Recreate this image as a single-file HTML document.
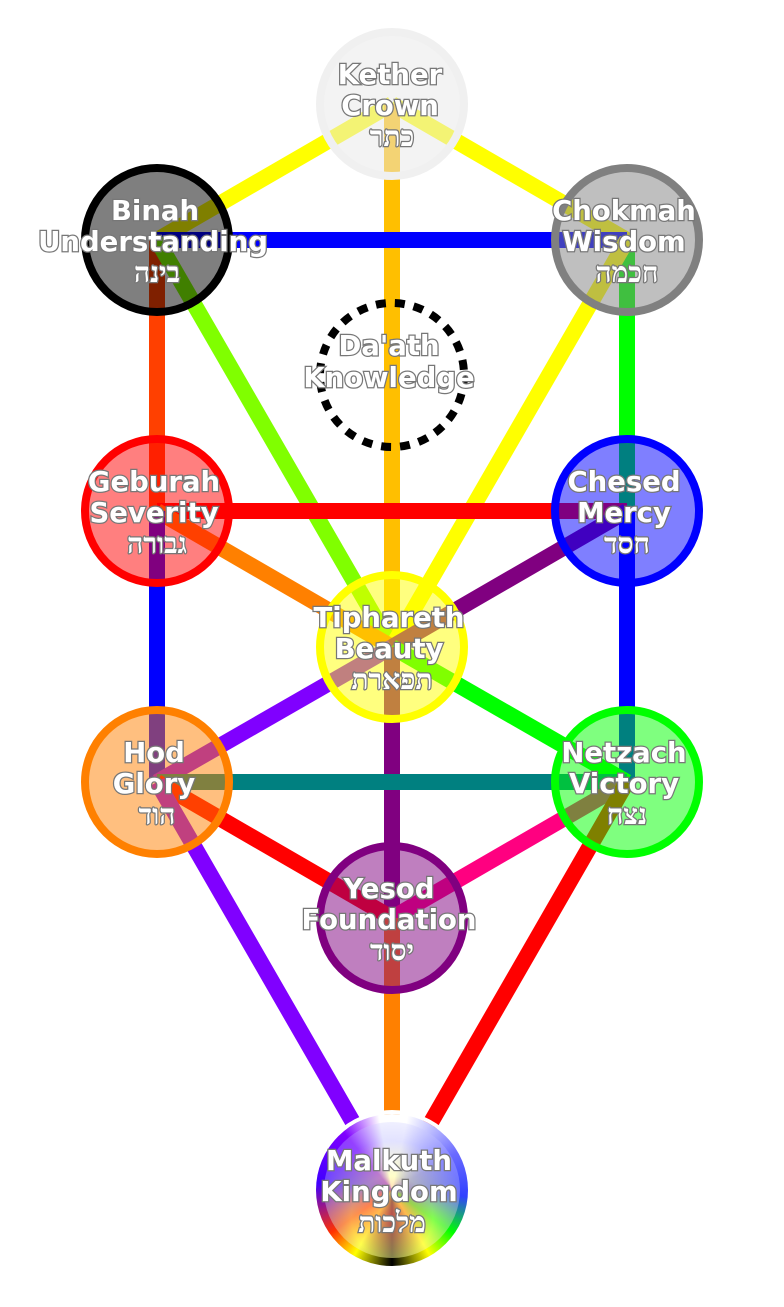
<!DOCTYPE html>
<html><head><meta charset="utf-8"><style>
html,body{margin:0;padding:0;background:#fff;}
#w{position:relative;width:784px;height:1307px;overflow:hidden;}
svg{position:absolute;left:0;top:0;}
#mal{position:absolute;left:316px;top:1114px;width:152px;height:152px;border-radius:50%;
background:conic-gradient(#fff 0deg,#fff 12deg,#6a6aff 60deg,#3040ff 95deg,#00ff00 125deg,#ffff00 150deg,#000 180deg,#ffff00 210deg,#ff3000 235deg,#4000ff 275deg,#8000ff 320deg,#fff 350deg);box-shadow:0 0 0 4px #fff;}
#malin{position:absolute;left:324px;top:1122px;width:136px;height:136px;border-radius:50%;
background:radial-gradient(circle at 50% 70%,rgba(255,110,110,.85) 0%,rgba(255,255,150,.6) 35%,rgba(180,180,255,.45) 65%,rgba(255,255,255,.2) 100%);opacity:.85;}
text{font-family:"DejaVu Sans","Liberation Sans",sans-serif;font-weight:bold;font-size:27.5px;fill:#fff;stroke:#777;stroke-width:2.5px;paint-order:stroke;text-anchor:middle;}
text.h{font-family:"DejaVu Serif","Liberation Serif",serif;font-size:28px;}
</style></head><body><div id="w">
<svg width="784" height="1307">
<g stroke-width="16" stroke-linecap="butt">
<line x1="392" y1="104" x2="157" y2="240" stroke="#ffff00"/>
<line x1="392" y1="104" x2="627" y2="240" stroke="#ffff00"/>
<line x1="392" y1="104" x2="392" y2="647" stroke="#ffbf00"/>
<line x1="157" y1="240" x2="627" y2="240" stroke="#0000ff"/>
<line x1="157" y1="240" x2="157" y2="511" stroke="#ff4000"/>
<line x1="157" y1="240" x2="392" y2="647" stroke="#80ff00"/>
<line x1="627" y1="240" x2="627" y2="511" stroke="#00ff00"/>
<line x1="627" y1="240" x2="392" y2="647" stroke="#ffff00"/>
<line x1="157" y1="511" x2="627" y2="511" stroke="#ff0000"/>
<line x1="157" y1="511" x2="392" y2="647" stroke="#ff8000"/>
<line x1="627" y1="511" x2="392" y2="647" stroke="#800080"/>
<line x1="157" y1="511" x2="157" y2="782" stroke="#0000ff"/>
<line x1="627" y1="511" x2="627" y2="782" stroke="#0000ff"/>
<line x1="392" y1="647" x2="157" y2="782" stroke="#8000ff"/>
<line x1="392" y1="647" x2="627" y2="782" stroke="#00ff00"/>
<line x1="392" y1="647" x2="392" y2="918" stroke="#800080"/>
<line x1="157" y1="782" x2="627" y2="782" stroke="#008080"/>
<line x1="157" y1="782" x2="392" y2="918" stroke="#ff0000"/>
<line x1="627" y1="782" x2="392" y2="918" stroke="#ff0080"/>
<line x1="157" y1="782" x2="392" y2="1190" stroke="#8000ff"/>
<line x1="627" y1="782" x2="392" y2="1190" stroke="#ff0000"/>
<line x1="392" y1="918" x2="392" y2="1190" stroke="#ff8000"/>
</g>
</svg>
<div id="mal"></div><div id="malin"></div>
<svg width="784" height="1307">
<g stroke-width="8">
<circle cx="392" cy="104" r="72" fill="#e8e8e8" fill-opacity=".5" stroke="#f0f0f0"/>
<circle cx="157" cy="240" r="72" fill="#000" fill-opacity=".5" stroke="#000"/>
<circle cx="627" cy="240" r="72" fill="#808080" fill-opacity=".5" stroke="#808080"/>
<circle cx="392" cy="375" r="72" fill="none" stroke="#000" stroke-dasharray="10 9"/>
<circle cx="157" cy="511" r="72" fill="#ff0000" fill-opacity=".5" stroke="#ff0000"/>
<circle cx="627" cy="511" r="72" fill="#0000ff" fill-opacity=".5" stroke="#0000ff"/>
<circle cx="392" cy="647" r="72" fill="#ffff00" fill-opacity=".5" stroke="#ffff00"/>
<circle cx="157" cy="782" r="72" fill="#ff8000" fill-opacity=".5" stroke="#ff8000"/>
<circle cx="627" cy="782" r="72" fill="#00ff00" fill-opacity=".5" stroke="#00ff00"/>
<circle cx="392" cy="918" r="72" fill="#800080" fill-opacity=".5" stroke="#800080"/>
</g>
<text x="390" y="84">Kether</text><text x="390" y="115">Crown</text><text class="h" x="392" y="146">כתר</text>
<text x="155" y="220">Binah</text><text x="153" y="251">Understanding</text><text class="h" x="157" y="282">בינה</text>
<text x="624" y="220">Chokmah</text><text x="624" y="251">Wisdom</text><text class="h" x="627" y="282">חכמה</text>
<text x="389" y="355">Da'ath</text><text x="389" y="387">Knowledge</text>
<text x="154" y="491">Geburah</text><text x="154" y="522">Severity</text><text class="h" x="157" y="553">גבורה</text>
<text x="624" y="491">Chesed</text><text x="624" y="522">Mercy</text><text class="h" x="627" y="553">חסד</text>
<text x="389" y="627">Tiphareth</text><text x="389" y="658">Beauty</text><text class="h" x="392" y="689">תפארת</text>
<text x="154" y="762">Hod</text><text x="154" y="793">Glory</text><text class="h" x="157" y="824">הוד</text>
<text x="624" y="762">Netzach</text><text x="624" y="793">Victory</text><text class="h" x="627" y="824">נצח</text>
<text x="389" y="898">Yesod</text><text x="389" y="929">Foundation</text><text class="h" x="392" y="960">יסוד</text>
<text x="389" y="1170">Malkuth</text><text x="389" y="1201">Kingdom</text><text class="h" x="392" y="1232">מלכות</text>
</svg>
</div></body></html>
